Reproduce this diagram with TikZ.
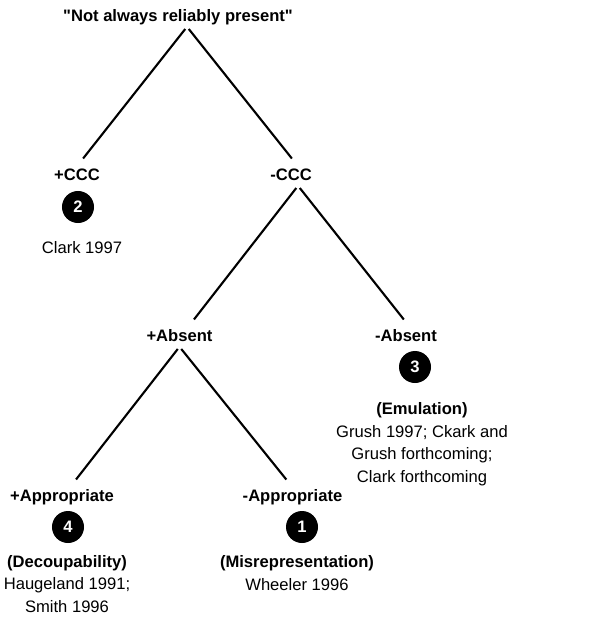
\documentclass[tikz,border=0pt]{standalone}
\usepackage{fontspec}
\setmainfont{Liberation Sans}
\usetikzlibrary{positioning}

\begin{document}
\begin{tikzpicture}[x=0.025cm,y=-0.025cm,
        every node/.style={font=\fontsize{11.8}{16}\selectfont},
        feature/.style={font=\fontsize{11.8}{16}\selectfont\bfseries,inner sep=1pt,text height=9pt,text depth=2.5pt},
        numdot/.style={circle,fill=black,text=white,minimum size=0.8cm,inner sep=0pt,font=\fontsize{11.8}{16}\selectfont\bfseries},
        refs/.style={align=center,inner sep=0pt},
        branch/.style={line width=1.5pt,shorten <=2pt,shorten >=7pt}]
            \useasboundingbox (0,0) rectangle (602,617);

            \node [feature] (Title) at (178,17) {\textquotedbl Not always reliably present\textquotedbl};
            \node [feature] (pCCC) at (77,176) {+CCC};
            \node [numdot] (two) at (78,207) {2};
            \node [refs] (Clark) at (82,248) {Clark 1997};
            \node [feature] (mCCC) at (291,176) {-CCC};

            \node [feature] (pAbs) at (179.5,337) {+Absent};
            \node [feature] (mAbs) at (406,337) {-Absent};
            \node [numdot] (three) at (415,367) {3};
            \node [refs] (Emul) at (422,444) {\textbf{(Emulation)}\\Grush 1997; Ckark and\\Grush forthcoming;\\Clark forthcoming};

            \node [feature] (pApp) at (62,497) {+Appropriate};
            \node [numdot] (four) at (68,527) {4};
            \node [refs] (Decoup) at (67,584) {\textbf{(Decoupability)}\\Haugeland 1991;\\Smith 1996};
            \node [feature] (mApp) at (292.5,497) {-Appropriate};
            \node [numdot] (one) at (302,527) {1};
            \node [refs] (Misrep) at (297,573) {\textbf{(Misrepresentation)}\\Wheeler 1996};

            \draw [branch] ([xshift=6.4pt]Title.south) -- (pCCC.north);
            \draw [branch] ([xshift=6.4pt]Title.south) -- ([xshift=5pt]mCCC.north);
            \draw [branch] ([xshift=5pt]mCCC.south) -- ([xshift=6pt]pAbs.north);
            \draw [branch] ([xshift=5pt]mCCC.south) -- ([xshift=2.8pt]mAbs.north);
            \draw [branch] (pAbs.south) -- ([xshift=5.7pt]pApp.north);
            \draw [branch] (pAbs.south) -- (mApp.north);
        \end{tikzpicture}
\end{document}
